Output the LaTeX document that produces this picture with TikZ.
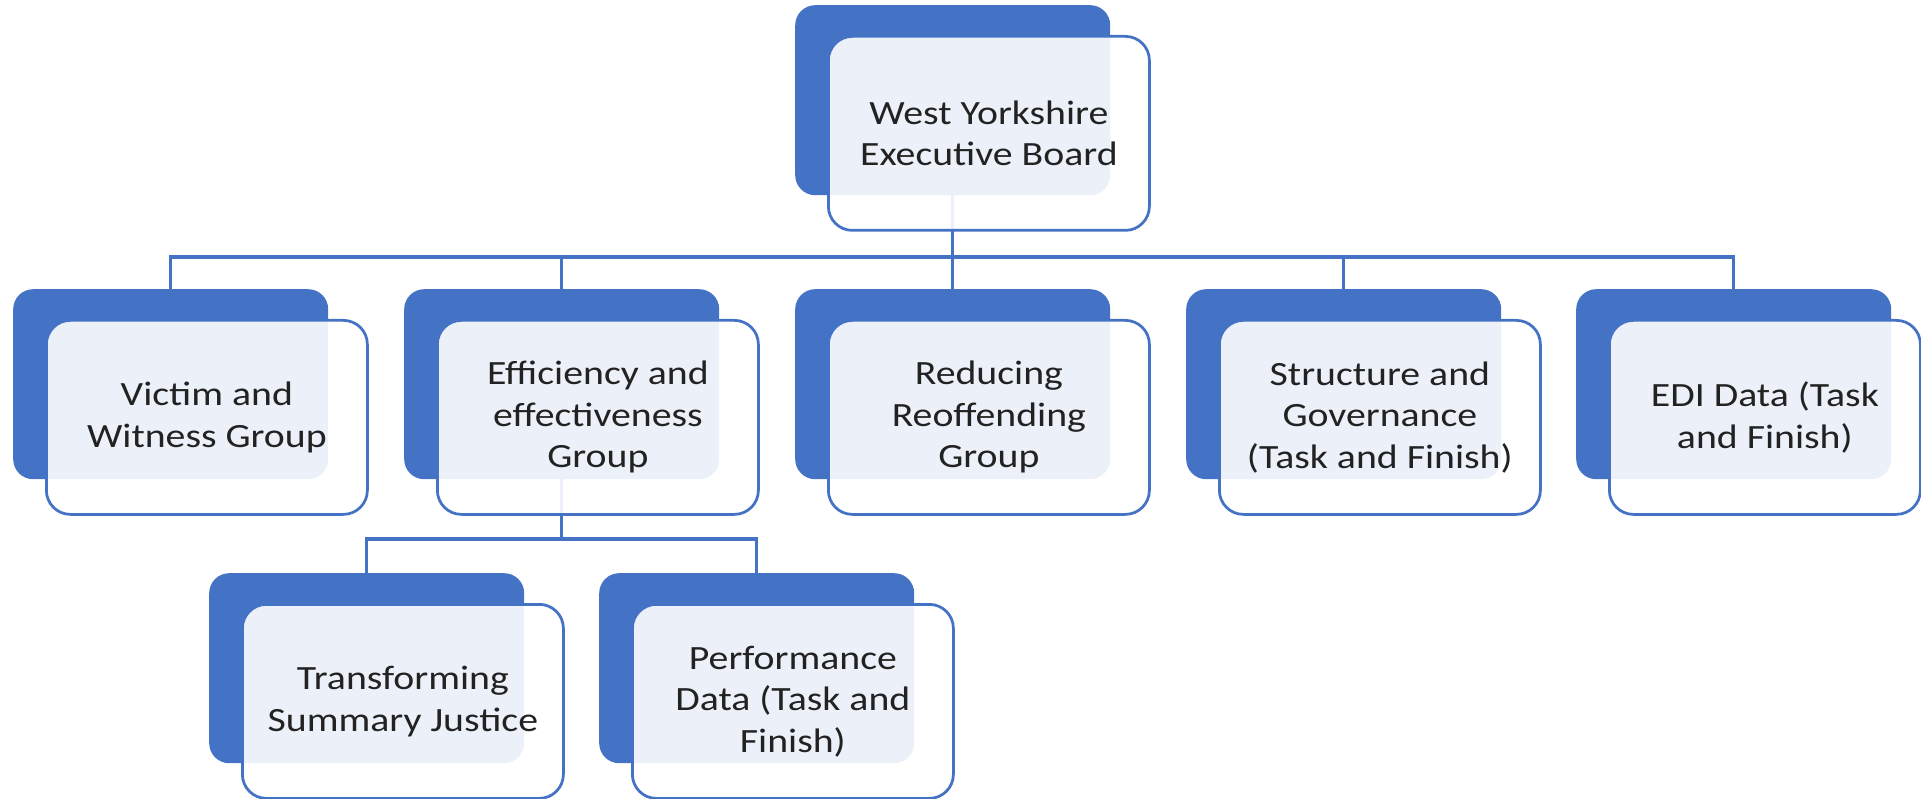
\documentclass[tikz,border=0pt]{standalone}
\usepackage{fontspec}
\setmainfont{Carlito}[FakeStretch=1.17]
\definecolor{wyblue}{HTML}{4472C4}
\definecolor{wytext}{HTML}{222222}
\pgfdeclarelayer{bg}
\pgfsetlayers{bg,main}
\tikzset{
  backbox/.style={rectangle, rounded corners=20pt, fill=wyblue, draw=none,
    minimum width=315pt, minimum height=190pt, anchor=north west, inner sep=0pt},
  frontbox/.style={rectangle, rounded corners=24pt, draw=wyblue, line width=2.75pt,
    fill=white, fill opacity=0.9, text opacity=1, text=wytext,
    minimum width=321pt, minimum height=194pt, anchor=north west, inner sep=0pt,
    align=center, font=\fontsize{34pt}{41.5pt}\selectfont},
  conn/.style={draw=wyblue, line width=3.5pt, line join=miter}
}
\begin{document}
\begin{tikzpicture}[x=1pt,y=-1pt]
\useasboundingbox (0,0) rectangle (1921,799);
% top
\node[backbox] (tb) at (795,5) {};
\node[frontbox] (tf) at (827,35) {West Yorkshire\\Executive Board};
% row 1
\node[backbox] (b1) at (13,289) {};
\node[frontbox] (f1) at (45,319) {Victim and\\Witness Group};
\node[backbox] (b2) at (404,289) {};
\node[frontbox] (f2) at (436,319) {Efficiency and\\effectiveness\\Group};
\node[backbox] (b3) at (795,289) {};
\node[frontbox] (f3) at (827,319) {Reducing\\Reoffending\\Group};
\node[backbox] (b4) at (1186,289) {};
\node[frontbox] (f4) at (1218,319) {Structure and\\Governance\\(Task and Finish)};
\node[backbox] (b5) at (1576,289) {};
\node[frontbox, minimum width=311pt] (f5) at (1608,319) {EDI Data (Task\\and Finish)};
% row 2
\node[backbox] (b6) at (209,573) {};
\node[frontbox] (f6) at (241,603) {Transforming\\Summary Justice};
\node[backbox] (b7) at (599,573) {};
\node[frontbox] (f7) at (631,603) {Performance\\Data (Task and\\Finish)};
% connectors
\coordinate (bar1) at (0,257);
\coordinate (bar2) at (0,539);
\begin{pgfonlayer}{bg}
\foreach \c in {b1,b2,b3,b4,b5}{
  \draw[conn] (tb.south) -- (tb.south |- bar1) -| (\c.north);
}
\foreach \c in {b6,b7}{
  \draw[conn] (b2.south) -- (b2.south |- bar2) -| (\c.north);
}
\end{pgfonlayer}
\end{tikzpicture}
\end{document}
